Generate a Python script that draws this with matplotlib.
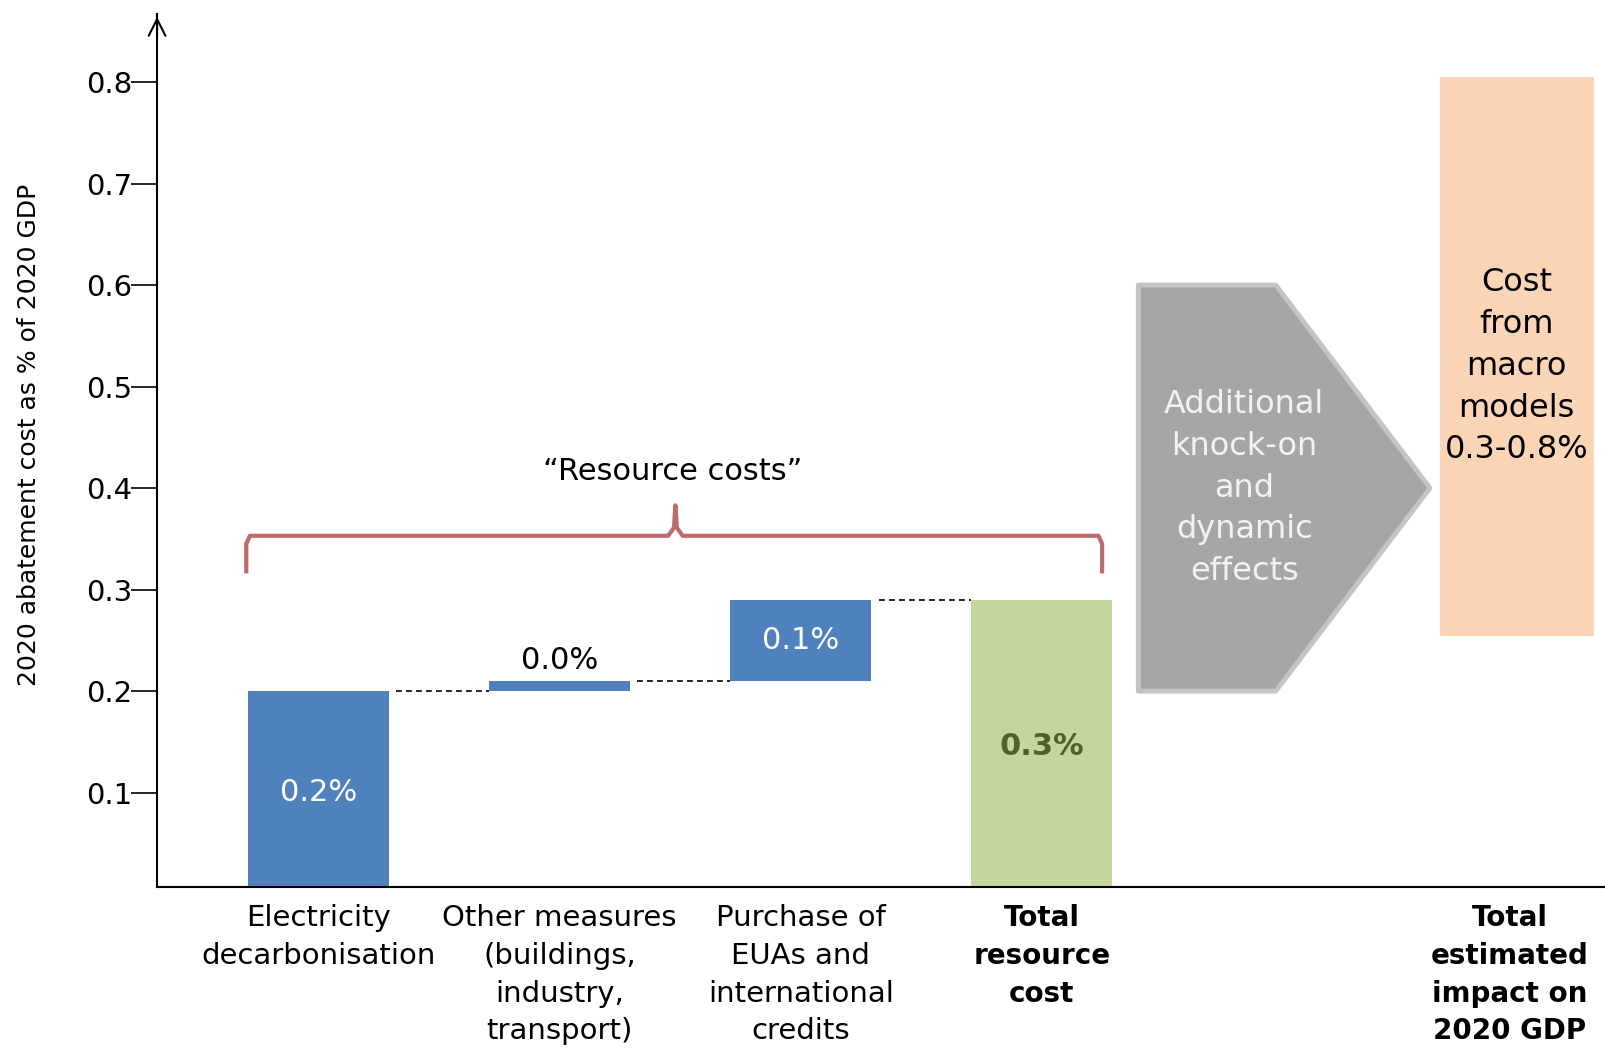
import matplotlib

matplotlib.use("Agg")
import matplotlib.pyplot as plt
from matplotlib.patches import Polygon
import numpy as np

# waterfall steps (% of 2020 GDP)
step_names = ["Electricity\ndecarbonisation",
              "Other measures\n(buildings,\nindustry,\ntransport)",
              "Purchase of\nEUAs and\ninternational\ncredits"]
step_values = [0.20, 0.01, 0.08]
step_labels = ["0.2%", "0.0%", "0.1%"]

total_name = "Total\nresource\ncost"
total_label = "0.3%"

knock_on_text = "Additional\nknock-on\nand\ndynamic\neffects"
knock_on_low, knock_on_high = 0.20, 0.60

macro_name = "Total\nestimated\nimpact on\n2020 GDP"
macro_text = "Cost\nfrom\nmacro\nmodels\n0.3-0.8%"
macro_low, macro_high = 0.254, 0.805

brace_text = "\u201cResource costs\u201d"
y_ticks = [0.1, 0.2, 0.3, 0.4, 0.5, 0.6, 0.7, 0.8]
y_label = "2020 abatement cost as % of 2020 GDP"

BLUE = "#4f81bd"
GREEN = "#c3d69b"
GREEN_TXT = "#4f6228"
ORANGE = "#fbd5b5"
GREY = "#a6a6a6"
GREY_EDGE = "#c4c4c4"
BRACE = "#bf6b6b"

fig = plt.figure(figsize=(16.06, 10.51), dpi=100)
ax = fig.add_axes([0.0978, 0.156, 0.9022, 0.8307])

width = 0.585
bottoms = np.concatenate([[0], np.cumsum(step_values)[:-1]])
total = float(np.sum(step_values))
x_steps = np.arange(len(step_values))
x_total = len(step_values)
x_knock = x_total + 1
x_macro = x_total + 2

ax.bar(x_steps, step_values, bottom=bottoms, width=width, color=BLUE)
ax.bar([x_total], [total], width=width, color=GREEN)
ax.bar([x_macro - 0.03], [macro_high - macro_low], bottom=macro_low,
       width=0.64, color=ORANGE)

# dashed connectors between the waterfall steps
tops = list(bottoms + np.array(step_values))
for i, t in enumerate(tops):
    ax.plot([i + width / 2 + 0.03, i + 1 - width / 2], [t, t],
            color="black", linestyle=(0, (3.5, 2.5)), linewidth=1.2)

# value labels
for i, (b, v, lab) in enumerate(zip(bottoms, step_values, step_labels)):
    if v < 0.03:
        ax.text(i, b + v + 0.02, lab, ha="center", va="center",
                fontsize=22, color="black")
    else:
        ax.text(i, b + v / 2, lab, ha="center", va="center",
                fontsize=22, color="white")
ax.text(x_total, total / 2, total_label, ha="center", va="center",
        fontsize=22, fontweight="bold", color=GREEN_TXT)

# chevron arrow for knock-on effects
mid = (knock_on_low + knock_on_high) / 2
chev = Polygon([(x_knock - 0.60, knock_on_low), (x_knock - 0.03, knock_on_low),
                (x_knock + 0.61, mid), (x_knock - 0.03, knock_on_high),
                (x_knock - 0.60, knock_on_high)],
               closed=True, facecolor=GREY, edgecolor=GREY_EDGE,
               linewidth=3.5, joinstyle="round")
ax.add_patch(chev)
ax.text(x_knock - 0.16, mid, knock_on_text, ha="center", va="center",
        fontsize=23, color="#f2f2f2", linespacing=1.45)

ax.text(x_macro - 0.03, 0.52, macro_text, ha="center", va="center",
        fontsize=23, color="black", linespacing=1.45)

# brace over the resource-cost bars
by, bl, bt = 0.353, 0.318, 0.383
bx0, bx1, bxm = -0.30, 3.25, 1.48
ax.plot([bx0, bx0, bx0 + 0.015, bxm - 0.03, bxm - 0.006, bxm, bxm + 0.006,
         bxm + 0.03, bx1 - 0.015, bx1, bx1],
        [bl, by - 0.008, by, by, by + 0.008, bt, by + 0.008, by, by,
         by - 0.008, bl],
        color=BRACE, linewidth=3, solid_joinstyle="round")
ax.text(bxm - 0.01, 0.416, brace_text, ha="center", va="center",
        fontsize=22, color="black")

# axes
ax.set_xlim(-0.67, 5.34)
ax.set_ylim(0.007, 0.867)
for s in ["top", "right"]:
    ax.spines[s].set_visible(False)
ax.spines["left"].set_linewidth(1.5)
ax.spines["bottom"].set_linewidth(1.5)
ax.annotate("", xy=(0, 1.0), xytext=(0, 0.97), xycoords="axes fraction",
            arrowprops=dict(arrowstyle="->", lw=1.5, mutation_scale=30,
                            color="black"), annotation_clip=False)

ax.set_yticks(y_ticks)
ax.set_yticklabels([f"{t:.1f}" for t in y_ticks], fontsize=21)
ax.tick_params(axis="y", length=19, width=1.2, pad=-1)

x_pos = list(x_steps) + [x_total, x_macro - 0.06]
ax.set_xticks(x_pos)
ax.set_xticklabels(step_names + [total_name, macro_name], fontsize=21,
                   linespacing=1.45)
ax.tick_params(axis="x", length=0, pad=12)
for lab in ax.get_xticklabels()[-2:]:
    lab.set_fontweight("bold")
    lab.set_fontsize(20)

fig.text(0.018, 0.586, y_label, rotation=90, ha="center", va="center",
         fontsize=18)

fig.savefig("out.png", dpi=100)
